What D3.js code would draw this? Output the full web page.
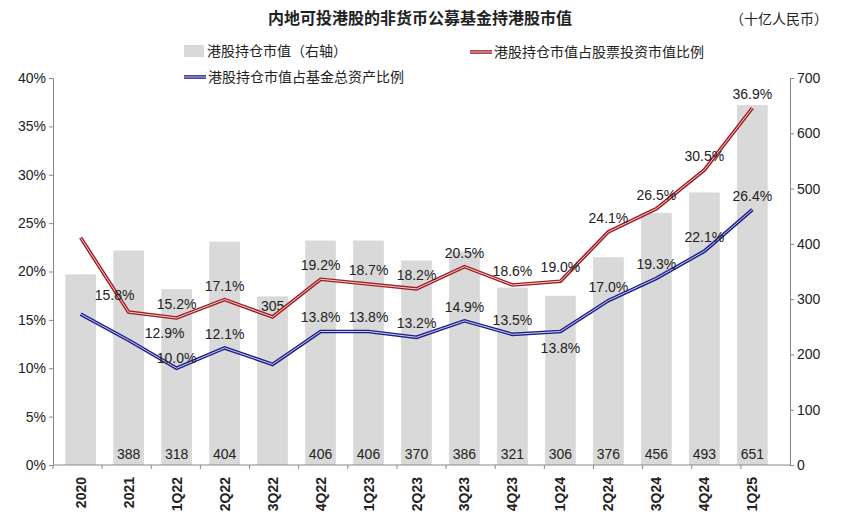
<!DOCTYPE html><html><head><meta charset="utf-8"><script src="https://cdn.jsdelivr.net/npm/d3@7"></script>
<style>body{margin:0;background:#fff}text{font-family:Arial,"Liberation Sans","Noto Sans CJK SC",sans-serif}</style></head><body><svg width="843" height="530"></svg><script>
const categories=["2020","2021","1Q22","2Q22","3Q22","4Q22","1Q23","2Q23","3Q23","4Q23","1Q24","2Q24","3Q24","4Q24","1Q25"];
const holdings=[345,388,318,404,305,406,406,370,386,321,306,376,456,493,651];
const shareOfStock=[23.5,15.8,15.2,17.1,15.3,19.2,18.7,18.2,20.5,18.6,19.0,24.1,26.5,30.5,36.9];
const shareOfAssets=[15.6,12.9,10.0,12.1,10.4,13.8,13.8,13.2,14.9,13.5,13.8,17.0,19.3,22.1,26.4];
const leftTicks=[0,5,10,15,20,25,30,35,40];
const rightTicks=[0,100,200,300,400,500,600,700];
const svg=d3.select("svg");
const L=53,R=790,T=78,B=465;
const x=d3.scaleBand().domain(categories).range([L-5,R-5]).padding(0.36);
const yl=d3.scaleLinear().domain([0,40]).range([B,T]);
const yr=d3.scaleLinear().domain([0,700]).range([B,T]);
svg.selectAll(".bar").data(categories).enter().append("rect").attr("x",d=>x(d)).attr("width",x.bandwidth())
 .attr("y",(d,i)=>yr(holdings[i])).attr("height",(d,i)=>B-yr(holdings[i])).attr("fill","#d9d9d9");
svg.selectAll(".bl").data(categories).enter().filter((d,i)=>i!==0&&i!==4).append("text")
 .attr("x",d=>x(d)+x.bandwidth()/2).attr("y",459).attr("text-anchor","middle").attr("font-size",14).attr("fill","#222")
 .text(d=>holdings[categories.indexOf(d)]);
svg.append("text").attr("x",x("3Q22")+x.bandwidth()/2).attr("y",yl(shareOfStock[4])-6).attr("text-anchor","middle").attr("font-size",14).attr("fill","#222").text(holdings[4]);
const cx=d=>x(d)+x.bandwidth()/2;
function drawLine(vals,col){
 const line=d3.line().x((v,i)=>cx(categories[i])).y(v=>yl(v));
 svg.append("path").datum(vals).attr("d",line).attr("fill","none").attr("stroke",col).attr("stroke-width",3.6);
 svg.append("path").datum(vals).attr("d",line).attr("fill","none").attr("stroke","#fff").attr("stroke-width",1).attr("opacity",0.8);
}
drawLine(shareOfStock,"#a01c20");
drawLine(shareOfAssets,"#1c1c8c");
const lbl=(vals,skip,offs)=>vals.forEach((v,i)=>{if(skip.includes(i))return;const o=offs[i]||[0,-9];
 svg.append("text").attr("x",cx(categories[i])+o[0]).attr("y",yl(v)+o[1]).attr("text-anchor","middle").attr("font-size",14).attr("fill","#222").text(v.toFixed(1)+"%");});
lbl(shareOfStock,[0,4],{1:[-14,-12]});
lbl(shareOfAssets,[0,4],{1:[36,-2],2:[0,-5],10:[0,22]});
svg.append("g").attr("transform",`translate(${L},0)`).call(d3.axisLeft(yl).tickValues(leftTicks).tickFormat(d=>d+"%").tickSize(4))
 .call(g=>{g.selectAll("text").attr("font-size",14).attr("fill","#222");g.select(".domain").attr("stroke","#888");g.selectAll("line").attr("stroke","#888");});
svg.append("g").attr("transform",`translate(${R},0)`).call(d3.axisRight(yr).tickValues(rightTicks).tickSize(4))
 .call(g=>{g.selectAll("text").attr("font-size",14).attr("fill","#222");g.select(".domain").attr("stroke","#888");g.selectAll("line").attr("stroke","#888");});
svg.append("line").attr("x1",L).attr("x2",R).attr("y1",B).attr("y2",B).attr("stroke","#888");
categories.forEach((c,i)=>{svg.append("line").attr("x1",L+i*(R-L)/15).attr("x2",L+i*(R-L)/15).attr("y1",B).attr("y2",B+4).attr("stroke","#888");
 svg.append("text").attr("transform",`translate(${cx(c)+5},${B+12}) rotate(-90)`).attr("text-anchor","end").attr("font-size",14).attr("font-weight","bold").attr("fill","#222").text(c);});
svg.append("text").attr("x",420).attr("y",24).attr("text-anchor","middle").attr("font-size",16).attr("font-weight","bold").attr("fill","#222").text("内地可投港股的非货币公募基金持港股市值");
svg.append("text").attr("x",828).attr("y",24).attr("text-anchor","end").attr("font-size",14).attr("fill","#222").text("（十亿人民币）");
svg.append("rect").attr("x",184).attr("y",45).attr("width",20).attr("height",12).attr("fill","#d9d9d9");
svg.append("text").attr("x",207).attr("y",56).attr("font-size",14).attr("fill","#222").text("港股持仓市值（右轴）");
[[470,52,"#a01c20","港股持仓市值占股票投资市值比例"],[184,77,"#1c1c8c","港股持仓市值占基金总资产比例"]].forEach(([lx,ly,c,t])=>{
 svg.append("line").attr("x1",lx).attr("x2",lx+22).attr("y1",ly).attr("y2",ly).attr("stroke",c).attr("stroke-width",3.6);
 svg.append("line").attr("x1",lx).attr("x2",lx+22).attr("y1",ly).attr("y2",ly).attr("stroke","#fff").attr("stroke-width",1).attr("opacity",0.8);
 svg.append("text").attr("x",lx+24).attr("y",ly+5).attr("font-size",14).attr("fill","#222").text(t);});
</script></body></html>
